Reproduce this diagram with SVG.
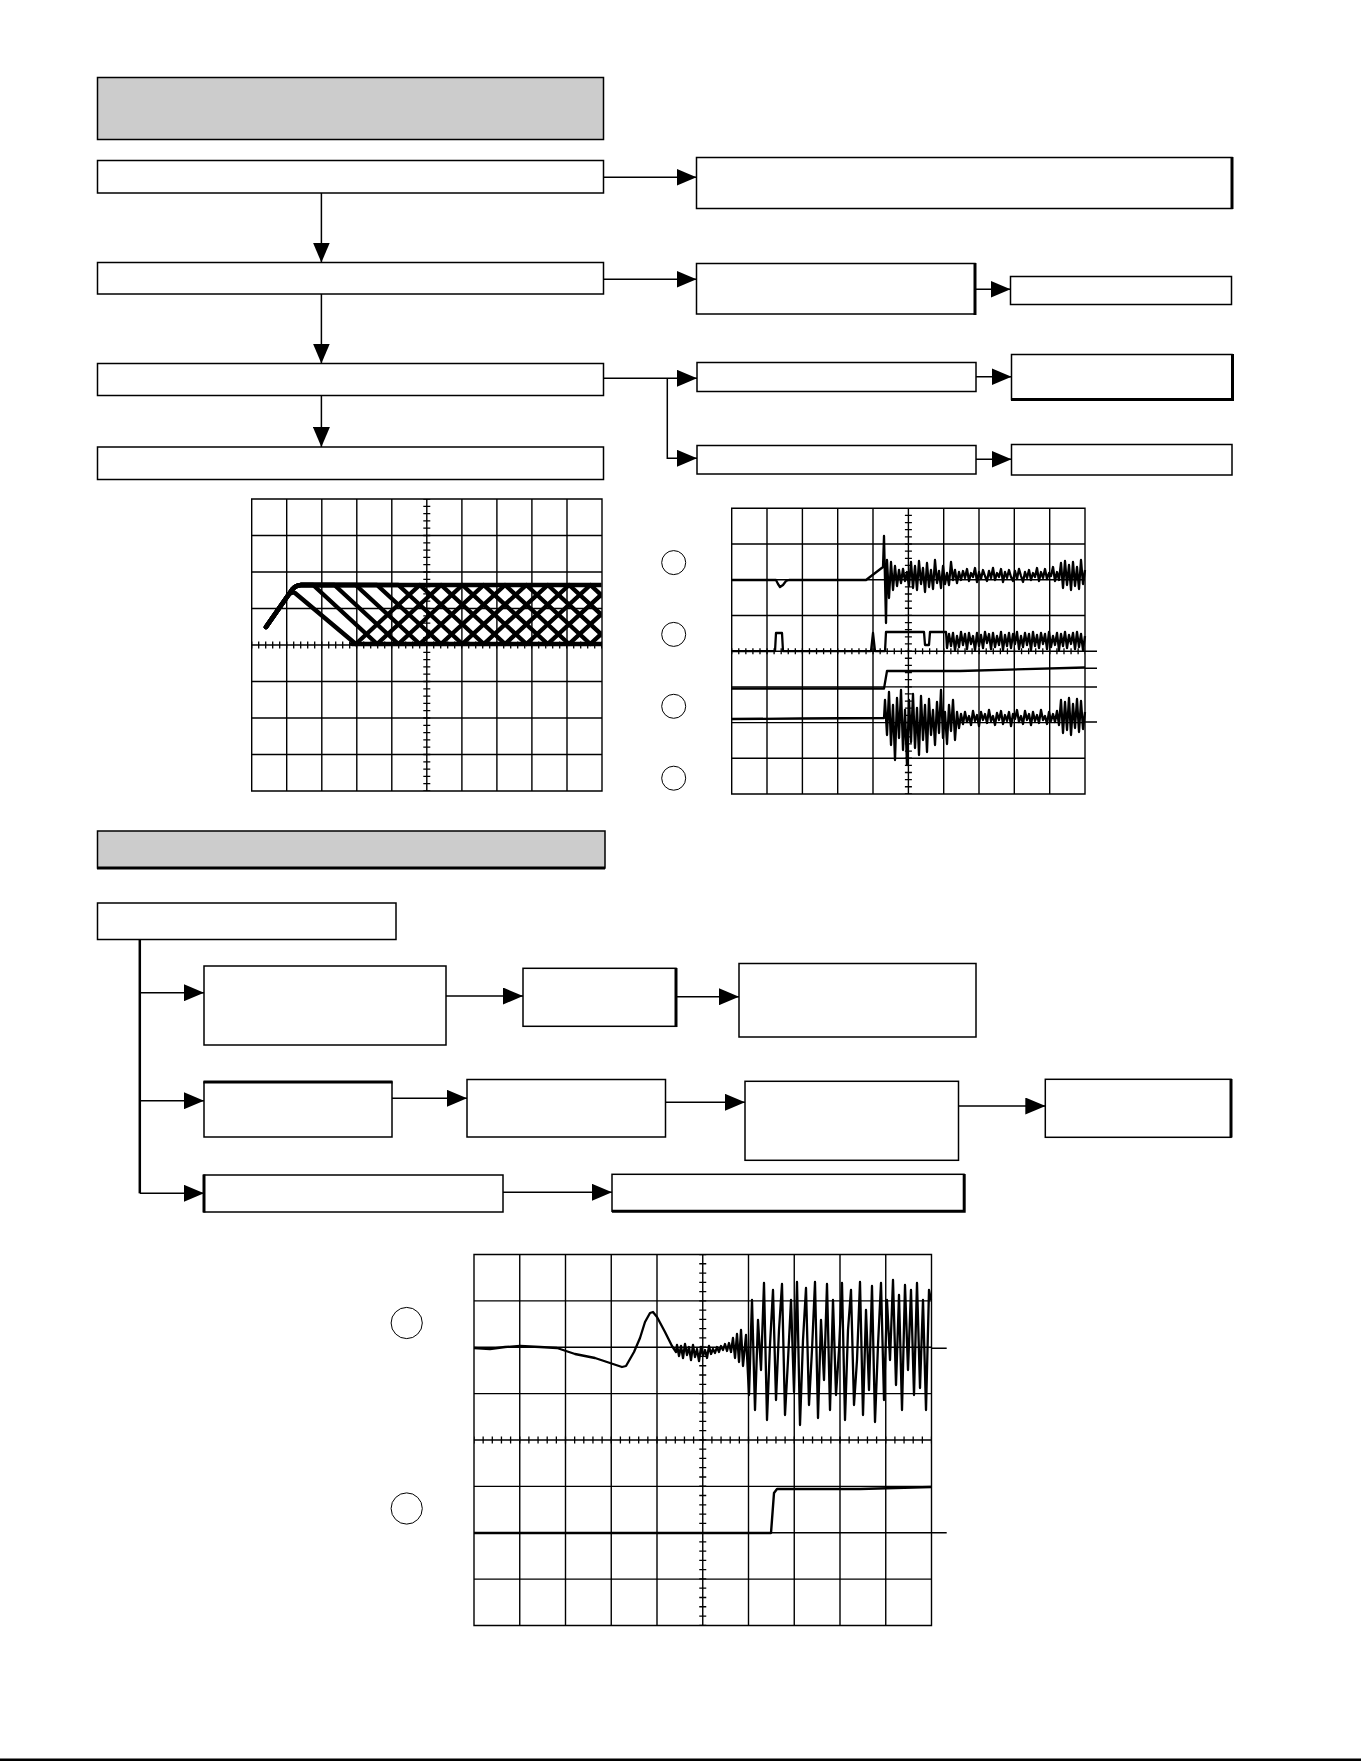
<svg xmlns="http://www.w3.org/2000/svg" width="1361" height="1761" viewBox="0 0 1361 1761">
<style>
.box{fill:#fff;stroke:#000;stroke-width:1.5}
.hdr{fill:#ccc;stroke:#000;stroke-width:1.5}
.thk{fill:none;stroke:#000;stroke-width:3}
.con{fill:none;stroke:#000;stroke-width:1.5}
.grid{fill:none;stroke:#000;stroke-width:1.4}
.tr{fill:none;stroke:#000;stroke-width:2.3;stroke-linejoin:round}
.big{fill:none;stroke:#000;stroke-width:4.4;stroke-linejoin:round;stroke-linecap:round}
.circ{fill:none;stroke:#000;stroke-width:1}
</style>
<defs>
<marker id="ah" markerUnits="userSpaceOnUse" markerWidth="20" markerHeight="17" refX="20" refY="8.5" orient="auto"><path d="M0,0 L20,8.5 L0,17 z" fill="#000"/></marker>
<clipPath id="c1"><rect x="250" y="495" width="351.5" height="300"/></clipPath>
</defs>
<rect x="0" y="0" width="1361" height="1761" fill="#fff"/>

<g id="nodes1">
<g id="hdr1"><rect class="hdr" x="97.5" y="77.5" width="506" height="62"/></g>
<g id="a1"><rect class="box" x="97.5" y="160.5" width="506" height="32.5"/></g>
<g id="a2"><rect class="box" x="97.5" y="262.5" width="506" height="31.5"/></g>
<g id="a3"><rect class="box" x="97.5" y="363.5" width="506" height="32"/></g>
<g id="a4"><rect class="box" x="97.5" y="447" width="506" height="32.5"/></g>
<g id="r1"><rect class="box" x="696.5" y="157.5" width="535.5" height="51"/><path class="thk" d="M1232,157 V209"/></g>
<g id="r2"><rect class="box" x="696.5" y="263.5" width="278.5" height="50.5"/><path class="thk" d="M975,263 V315"/></g>
<g id="r2b"><rect class="box" x="1010.5" y="276.5" width="221" height="28"/></g>
<g id="r3a"><rect class="box" x="697" y="362.5" width="279" height="29"/></g>
<g id="r3c"><rect class="box" x="1011.5" y="354.5" width="220.5" height="45"/><path class="thk" d="M1011,399.5 H1232.5 V354"/></g>
<g id="r3b"><rect class="box" x="697" y="445.5" width="279" height="28.5"/></g>
<g id="r3d"><rect class="box" x="1011.5" y="444.5" width="220.5" height="30.5"/></g>
</g>

<g id="nodes2">
<g id="hdr2"><rect class="hdr" x="97.5" y="831" width="507.5" height="37"/><path class="thk" d="M97,868 H605"/></g>
<g id="b0"><rect class="box" x="97.5" y="903" width="298.5" height="36.5"/></g>
<g id="b1"><rect class="box" x="204" y="966" width="242" height="79"/></g>
<g id="b2"><rect class="box" x="523" y="968.3" width="153" height="58"/><path class="thk" d="M676,968 V1027"/></g>
<g id="b3"><rect class="box" x="739" y="963.5" width="237" height="73.5"/></g>
<g id="b4"><rect class="box" x="204" y="1082" width="188" height="55"/><path class="thk" d="M203.5,1082 H392.5"/></g>
<g id="b5"><rect class="box" x="467" y="1079.5" width="198.5" height="57.5"/></g>
<g id="b6"><rect class="box" x="745" y="1081.3" width="213.5" height="79"/></g>
<g id="b7"><rect class="box" x="1045.3" y="1079.3" width="185.7" height="58"/><path class="thk" d="M1231,1079 V1137.5"/></g>
<g id="b8"><rect class="box" x="204" y="1175" width="299" height="37"/><path class="thk" d="M204,1174.5 V1212.5"/></g>
<g id="b9"><rect class="box" x="612" y="1174.3" width="352" height="37"/><path class="thk" d="M612,1211.3 H964.2 V1174"/></g>
</g>

<g id="connectors">
<path class="con" d="M603.5,177.3 H696.5" marker-end="url(#ah)"/>
<path class="con" d="M321.4,193 V262.5" marker-end="url(#ah)"/>
<path class="con" d="M603.5,279.3 H696.5" marker-end="url(#ah)"/>
<path class="con" d="M975,289.3 H1010.5" marker-end="url(#ah)"/>
<path class="con" d="M321.4,294 V363.5" marker-end="url(#ah)"/>
<path class="con" d="M603.5,378.3 H697" marker-end="url(#ah)"/>
<path class="con" d="M667.3,378.3 V458.3 H697" marker-end="url(#ah)"/>
<path class="con" d="M976,376.7 H1011.5" marker-end="url(#ah)"/>
<path class="con" d="M976,459.3 H1011.5" marker-end="url(#ah)"/>
<path class="con" d="M321.4,395.5 V447" marker-end="url(#ah)"/>
<path class="con" style="stroke-width:2.5" d="M139.8,939.5 V1193.3"/>
<path class="con" d="M139.8,992.7 H204" marker-end="url(#ah)"/>
<path class="con" d="M139.8,1100.7 H204" marker-end="url(#ah)"/>
<path class="con" d="M139.8,1193.3 H204" marker-end="url(#ah)"/>
<path class="con" d="M446,996 H523" marker-end="url(#ah)"/>
<path class="con" d="M676,996.7 H739" marker-end="url(#ah)"/>
<path class="con" d="M392,1098.3 H467" marker-end="url(#ah)"/>
<path class="con" d="M665.5,1102.3 H745" marker-end="url(#ah)"/>
<path class="con" d="M958.5,1106 H1045.3" marker-end="url(#ah)"/>
<path class="con" d="M503,1192.3 H612" marker-end="url(#ah)"/>
</g>

<g id="scope1">
<path class="grid" d="M251.7,499 H602 V791 H251.7 Z M286.7,499V791 M321.8,499V791 M356.8,499V791 M391.8,499V791 M426.8,499V791 M461.9,499V791 M496.9,499V791 M531.9,499V791 M567,499V791 M251.7,535.5H602 M251.7,572H602 M251.7,608.5H602 M251.7,645H602 M251.7,681.5H602 M251.7,718H602 M251.7,754.5H602"/>
<path d="M426.8,499 V791" stroke="#000" stroke-width="7" stroke-dasharray="1.3 6" stroke-dashoffset="0.65" fill="none"/>
<path d="M251.7,645 H602" stroke="#000" stroke-width="7" stroke-dasharray="1.3 5.7" stroke-dashoffset="0.65" fill="none"/>
<g clip-path="url(#c1)">
<path class="big" d="M266,627 L287,597 Q291,591 295,593 L355.8,644 L419.8,585 L483.8,644 L547.8,585 L611.8,644"/>
<path class="big" d="M266,627 L289,594 Q294,585 301,585 H313.1 L377.1,644 L441.1,585 L505.1,644 L569.1,585 L633.1,644"/>
<path class="big" d="M266,627 L289,594 Q294,585 301,585 H334.4 L398.4,644 L462.4,585 L526.4,644 L590.4,585 L654.4,644"/>
<path class="big" d="M266,627 L289,594 Q294,585 301,585 H355.7 L419.7,644 L483.7,585 L547.7,644 L611.7,585"/>
<path class="big" d="M266,627 L289,594 Q294,585 301,585 H377 L441,644 L505,585 L569,644 L633,585"/>
<path class="big" d="M266,627 L289,594 Q294,585 301,585 H398.3 L462.3,644 L526.3,585 L590.3,644 L654.3,585"/>
<path class="big" d="M300,585 H601 M352,644 H601"/>
</g>
</g>

<g id="scope2">
<circle class="circ" cx="673.7" cy="562.6" r="12"/>
<circle class="circ" cx="673.7" cy="634.4" r="12"/>
<circle class="circ" cx="673.7" cy="706.3" r="12"/>
<circle class="circ" cx="673.7" cy="778.2" r="12"/>
<path class="grid" d="M731.7,508.3 H1085 V794 H731.7 Z M767,508.3V794 M802.4,508.3V794 M837.7,508.3V794 M873,508.3V794 M908.4,508.3V794 M943.7,508.3V794 M979,508.3V794 M1014.3,508.3V794 M1049.7,508.3V794 M731.7,544H1085 M731.7,579.8H1085 M731.7,615.5H1085 M731.7,651.2H1085 M731.7,686.9H1085 M731.7,722.6H1085 M731.7,758.3H1085 M1085,651.2H1097 M1085,668.3H1097 M1085,687H1097 M1085,722H1097"/>
<path d="M908.4,508.3 V794" stroke="#000" stroke-width="7" stroke-dasharray="1.3 5.84" stroke-dashoffset="0.65" fill="none"/>
<path d="M731.7,651.2 H1085" stroke="#000" stroke-width="6" stroke-dasharray="1.3 5.77" stroke-dashoffset="0.65" fill="none"/>
<path class="tr" d="M731.7,580 H776 L778,584 L780,587 L783,585 L786,581 L789,580 H866 L883,567 L884,536 L886,623 L887,560 889,598 891,562 893,590 895,566 897,586 899,570 901,583 903,569 905,581 907,572 909,586 911,562 913,588 915,566 917,590 919,561 921,584 923,568 925,592 927,563 929,587 931,570 933,589 935,560 937,583 939,571 941,588 943,566 945,584 947,573 949,585 951,562 953,580 955,570 957,583 959,572 961,580 963,571 965,578 967,569 969,581 971,573 973,577 975,568 977,582 979,572 981,579 983,570 985,576 987,581 989,571 991,578 993,568 995,580 997,573 999,577 1001,569 1003,582 1005,572 1007,578 1009,570 1011,577 1013,581 1015,571 1017,579 1019,569 1021,576 1023,582 1025,572 1027,578 1029,570 1031,580 1033,573 1035,577 1037,568 1039,581 1041,572 1043,578 1045,569 1047,579 1049,573 1051,576 1053,567 1055,581 1057,572 1059,580 1061,563 1063,588 1065,561 1067,585 1069,565 1071,590 1073,562 1075,586 1077,567 1079,589 1081,560 1083,584 1085,570"/>
<path class="tr" d="M731.7,651.2 H775 L776,633 H782 L783,651.2 H871 L873,633 L875,651.2 H885 L886,632 H924 L925,645 H929 L930,632 H946 L947,648 949,634 951,646 953,633 955,650 957,636 959,647 961,632 963,645 965,634 967,649 969,633 971,644 973,636 975,650 977,633 979,646 981,635 983,648 985,632 987,643 989,634 991,649 993,633 995,647 997,636 999,645 1001,632 1003,650 1005,635 1007,646 1009,633 1011,648 1013,634 1015,644 1017,632 1019,649 1021,636 1023,647 1025,633 1027,645 1029,634 1031,650 1033,632 1035,646 1037,635 1039,648 1041,633 1043,644 1045,634 1047,649 1049,632 1051,647 1053,636 1055,645 1057,633 1059,650 1061,634 1063,646 1065,632 1067,648 1069,635 1071,644 1073,633 1075,649 1077,632 1079,647 1081,634 1083,650 1085,636"/>
<path class="tr" d="M731.7,688.5 H884 L887,671 H960 L1085,667.5"/>
<path class="tr" d="M731.7,719 L800,718.5 L884,718 L885,700 887,735 889,692 891,745 893,705 895,760 897,698 899,738 901,690 903,750 905,710 907,765 909,700 911,742 913,694 915,748 917,708 919,755 921,696 923,740 925,705 927,752 929,699 931,735 933,710 935,745 937,702 939,733 941,690 943,738 945,712 947,744 949,705 951,731 953,700 955,740 957,712 959,728 961,714 963,724 965,712 967,722 969,716 971,725 973,711 975,721 977,715 979,726 981,712 983,720 985,714 987,723 989,710 991,721 993,716 995,725 997,713 999,720 1001,711 1003,724 1005,715 1007,721 1009,712 1011,726 1013,714 1015,719 1017,710 1019,722 1021,716 1023,724 1025,711 1027,720 1029,714 1031,725 1033,712 1035,721 1037,715 1039,723 1041,710 1043,720 1045,716 1047,724 1049,712 1051,721 1053,714 1055,722 1057,711 1059,725 1061,700 1063,733 1065,702 1067,730 1069,698 1071,735 1073,704 1075,728 1077,699 1079,732 1081,701 1083,729 1085,712"/>
</g>

<g id="scope3">
<circle class="circ" cx="406.7" cy="1323" r="15.6"/>
<circle class="circ" cx="406.7" cy="1508.5" r="15.6"/>
<path class="grid" d="M474,1254.5 H931.5 V1625.5 H474 Z M519.75,1254.5V1625.5 M565.5,1254.5V1625.5 M611.25,1254.5V1625.5 M657,1254.5V1625.5 M702.75,1254.5V1625.5 M748.5,1254.5V1625.5 M794.25,1254.5V1625.5 M840,1254.5V1625.5 M885.75,1254.5V1625.5 M474,1300.9H931.5 M474,1347.3H931.5 M474,1393.6H931.5 M474,1440H931.5 M474,1486.4H931.5 M474,1532.8H931.5 M474,1579.1H931.5 M931.5,1348.3H946.7 M931.5,1532.7H946.7"/>
<path d="M702.75,1254.5 V1625.5" stroke="#000" stroke-width="7" stroke-dasharray="1.3 7.97" stroke-dashoffset="0.65" fill="none"/>
<path d="M474,1440 H931.5" stroke="#000" stroke-width="7" stroke-dasharray="1.3 7.85" stroke-dashoffset="0.65" fill="none"/>
<path class="tr" d="M474,1348 L490,1349 L505,1347 L520,1346 L540,1347 L557,1348 L575,1354 L595,1358 L610,1363 L622,1367 L626,1366 L634,1352 L640,1338 L645,1322 L650,1313 L653,1312 L657,1317 L665,1332 L672,1346 L676,1352 L677,1345 679,1356 681,1346 683,1358 685,1344 687,1355 689,1347 691,1360 693,1345 695,1357 697,1349 699,1361 701,1347 703,1356 705,1350 707,1358 709,1346 711,1354 713,1349 715,1353 717,1347 719,1352 721,1346 723,1350 725,1344 727,1351 729,1343 731,1352 733,1338 735,1358 737,1334 739,1362 741,1330 743,1366 746,1335 749,1395 752,1300 755,1410 758,1320 761,1370 764,1283 767,1420 770,1345 773,1290 776,1400 779,1330 782,1284 785,1415 788,1360 791,1300 794,1392 797,1282 800,1425 803,1340 806,1288 809,1405 812,1350 815,1282 818,1418 821,1320 824,1380 827,1284 830,1410 833,1300 836,1395 839,1350 842,1283 845,1420 848,1330 851,1290 854,1405 857,1360 860,1282 863,1415 866,1310 869,1390 872,1286 875,1422 878,1345 881,1283 884,1400 887,1300 890,1360 893,1280 896,1385 899,1295 902,1410 905,1285 908,1370 911,1290 914,1395 917,1283 920,1388 923,1300 926,1410 929,1290 931,1300"/>
<path class="tr" style="stroke-width:2.4" d="M474,1533 H771 L774,1493 L777,1489 H860 L931,1487"/>
</g>

<rect x="0" y="1758.5" width="1361" height="2.5" fill="#000"/>
</svg>
